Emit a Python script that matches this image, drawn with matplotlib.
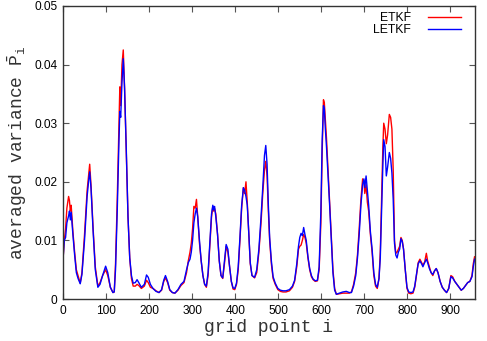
import matplotlib
matplotlib.use("Agg")
import matplotlib.pyplot as plt
from matplotlib.ticker import FuncFormatter

grid = [0, 3, 6, 9, 13, 15, 17, 19, 23, 27, 31, 35, 40, 44, 50, 56, 60, 62, 65, 70,
        75, 81, 86, 92, 99, 104, 110, 116, 119, 122, 126, 130, 132, 134, 137, 140, 143, 147, 151, 155,
        159, 163, 168, 172, 176, 182, 189, 194, 198, 203, 209, 216, 223, 229, 234, 238, 243, 248, 254, 260,
        267, 274, 281, 287, 291, 295, 298, 301, 304, 307, 310, 313, 317, 321, 325, 329, 333, 337, 341, 345,
        348, 350, 352, 355, 359, 363, 367, 371, 375, 379, 383, 387, 391, 395, 399, 403, 407, 411, 415, 419,
        422, 425, 428, 431, 435, 439, 445, 450, 455, 460, 464, 468, 471, 474, 477, 480, 484, 488, 493, 499,
        505, 511, 518, 526, 533, 538, 543, 547, 550, 553, 556, 559, 562, 565, 569, 573, 577, 581, 586, 591,
        595, 599, 602, 605, 607, 609, 612, 615, 619, 623, 627, 631, 635, 642, 650, 658, 665, 670, 675, 680,
        684, 688, 692, 696, 699, 701, 704, 707, 710, 714, 718, 722, 726, 730, 734, 737, 740, 743, 745, 748,
        751, 754, 758, 761, 764, 767, 770, 773, 776, 779, 782, 785, 788, 791, 795, 799, 803, 808, 813, 817,
        821, 825, 829, 833, 836, 840, 844, 847, 851, 855, 859, 863, 867, 871, 876, 881, 886, 891, 896, 901,
        905, 910, 915, 920, 925, 930, 935, 940, 945, 950, 953, 956]

etkf = [0.0067, 0.0100, 0.0120, 0.0155, 0.0175, 0.0168, 0.0150, 0.0160, 0.0115, 0.0080,
        0.0050, 0.0040, 0.0027, 0.0045, 0.0110, 0.0185, 0.0215, 0.0230, 0.0195, 0.0120,
        0.0055, 0.0022, 0.0028, 0.0040, 0.0050, 0.0040, 0.0020, 0.0011, 0.0012, 0.0060,
        0.0170, 0.0300, 0.0362, 0.0330, 0.0400, 0.0425, 0.0360, 0.0250, 0.0140, 0.0070,
        0.0035, 0.0022, 0.0022, 0.0025, 0.0023, 0.0018, 0.0022, 0.0032, 0.0028, 0.0020,
        0.0018, 0.0014, 0.0011, 0.0015, 0.0030, 0.0036, 0.0028, 0.0015, 0.0011, 0.0010,
        0.0015, 0.0023, 0.0028, 0.0045, 0.0065, 0.0080, 0.0095, 0.0120, 0.0158, 0.0155,
        0.0170, 0.0140, 0.0095, 0.0065, 0.0040, 0.0025, 0.0020, 0.0040, 0.0090, 0.0140,
        0.0158, 0.0150, 0.0155, 0.0145, 0.0110, 0.0065, 0.0040, 0.0035, 0.0060, 0.0090,
        0.0080, 0.0055, 0.0030, 0.0017, 0.0016, 0.0025, 0.0050, 0.0100, 0.0155, 0.0190,
        0.0180, 0.0200, 0.0165, 0.0120, 0.0060, 0.0040, 0.0036, 0.0045, 0.0080, 0.0130,
        0.0180, 0.0220, 0.0235, 0.0210, 0.0150, 0.0100, 0.0060, 0.0035, 0.0025, 0.0016,
        0.0013, 0.0012, 0.0012, 0.0014, 0.0020, 0.0030, 0.0055, 0.0085, 0.0090, 0.0092,
        0.0100, 0.0110, 0.0105, 0.0095, 0.0070, 0.0050, 0.0038, 0.0033, 0.0030, 0.0031,
        0.0050, 0.0130, 0.0250, 0.0340, 0.0335, 0.0310, 0.0275, 0.0230, 0.0170, 0.0110,
        0.0050, 0.0018, 0.0008, 0.0009, 0.0010, 0.0010, 0.0010, 0.0012, 0.0025, 0.0045,
        0.0075, 0.0120, 0.0170, 0.0205, 0.0200, 0.0180, 0.0195, 0.0165, 0.0150, 0.0110,
        0.0080, 0.0040, 0.0022, 0.0018, 0.0035, 0.0080, 0.0170, 0.0260, 0.0300, 0.0290,
        0.0265, 0.0280, 0.0315, 0.0310, 0.0290, 0.0220, 0.0100, 0.0078, 0.0080, 0.0085,
        0.0090, 0.0105, 0.0100, 0.0085, 0.0050, 0.0018, 0.0010, 0.0009, 0.0010, 0.0020,
        0.0040, 0.0062, 0.0068, 0.0062, 0.0058, 0.0063, 0.0078, 0.0065, 0.0055, 0.0045,
        0.0040, 0.0048, 0.0052, 0.0045, 0.0030, 0.0020, 0.0015, 0.0011, 0.0018, 0.0040,
        0.0038, 0.0030, 0.0025, 0.0020, 0.0015, 0.0018, 0.0023, 0.0028, 0.0030, 0.0040,
        0.0060, 0.0072]

letkf = [0.0067, 0.0100, 0.0105, 0.0130, 0.0142, 0.0150, 0.0135, 0.0148, 0.0110, 0.0075,
         0.0045, 0.0035, 0.0026, 0.0042, 0.0100, 0.0175, 0.0205, 0.0217, 0.0190, 0.0115,
         0.0050, 0.0020, 0.0025, 0.0040, 0.0056, 0.0045, 0.0020, 0.0011, 0.0012, 0.0050,
         0.0150, 0.0270, 0.0320, 0.0310, 0.0370, 0.0410, 0.0360, 0.0255, 0.0140, 0.0070,
         0.0040, 0.0027, 0.0028, 0.0033, 0.0028, 0.0020, 0.0025, 0.0041, 0.0037, 0.0025,
         0.0018, 0.0013, 0.0011, 0.0016, 0.0032, 0.0040, 0.0030, 0.0016, 0.0011, 0.0010,
         0.0016, 0.0025, 0.0030, 0.0050, 0.0062, 0.0068, 0.0080, 0.0100, 0.0130, 0.0145,
         0.0155, 0.0140, 0.0100, 0.0065, 0.0040, 0.0025, 0.0022, 0.0045, 0.0095, 0.0145,
         0.0160, 0.0152, 0.0158, 0.0140, 0.0110, 0.0065, 0.0040, 0.0036, 0.0065, 0.0093,
         0.0085, 0.0055, 0.0030, 0.0019, 0.0018, 0.0027, 0.0055, 0.0105, 0.0160, 0.0190,
         0.0185, 0.0175, 0.0160, 0.0120, 0.0062, 0.0040, 0.0037, 0.0050, 0.0085, 0.0140,
         0.0190, 0.0245, 0.0262, 0.0230, 0.0160, 0.0105, 0.0065, 0.0038, 0.0027, 0.0018,
         0.0015, 0.0014, 0.0014, 0.0016, 0.0022, 0.0032, 0.0060, 0.0090, 0.0105, 0.0112,
         0.0108, 0.0122, 0.0110, 0.0100, 0.0072, 0.0052, 0.0040, 0.0034, 0.0031, 0.0032,
         0.0055, 0.0150, 0.0270, 0.0330, 0.0325, 0.0295, 0.0260, 0.0220, 0.0165, 0.0105,
         0.0045, 0.0015, 0.0008, 0.0010, 0.0012, 0.0013, 0.0011, 0.0011, 0.0022, 0.0040,
         0.0070, 0.0110, 0.0160, 0.0195, 0.0205, 0.0190, 0.0210, 0.0185, 0.0160, 0.0115,
         0.0085, 0.0045, 0.0025, 0.0020, 0.0035, 0.0070, 0.0150, 0.0230, 0.0272, 0.0260,
         0.0210, 0.0225, 0.0250, 0.0240, 0.0215, 0.0170, 0.0095, 0.0075, 0.0070, 0.0080,
         0.0085, 0.0103, 0.0098, 0.0085, 0.0050, 0.0020, 0.0012, 0.0011, 0.0012, 0.0022,
         0.0042, 0.0060, 0.0065, 0.0060, 0.0055, 0.0062, 0.0068, 0.0062, 0.0052, 0.0045,
         0.0042, 0.0048, 0.0052, 0.0045, 0.0030, 0.0020, 0.0015, 0.0011, 0.0018, 0.0038,
         0.0036, 0.0030, 0.0025, 0.0020, 0.0015, 0.0018, 0.0023, 0.0028, 0.0030, 0.0038,
         0.0055, 0.0068]

xticks = [0, 100, 200, 300, 400, 500, 600, 700, 800, 900]
yticks = [0, 0.01, 0.02, 0.03, 0.04, 0.05]
series_names = ["ETKF", "LETKF"]

plt.rcParams['mathtext.fontset'] = 'custom'
plt.rcParams['mathtext.rm'] = 'Liberation Mono'
plt.rcParams['mathtext.it'] = 'Liberation Mono'
plt.rcParams['mathtext.tt'] = 'Liberation Mono'

fig = plt.figure(figsize=(4.87, 3.41), dpi=100)
ax = fig.add_axes([63/487, 42/341, (475-63)/487, (299-6)/341])

ax.plot(grid, etkf, color='#ff0000', lw=1.0, label=series_names[0])
ax.plot(grid, letkf, color='#0000ff', lw=1.0, label=series_names[1])

ax.set_xlim(0, 957)
ax.set_ylim(0, 0.05)
ax.set_xticks(xticks)
ax.set_yticks(yticks)
ax.yaxis.set_major_formatter(FuncFormatter(lambda v, p: '0' if v == 0 else f'{v:.2f}'))

ax.tick_params(direction='in', top=True, right=True, length=4, width=0.8,
               color='#555555', labelsize=8.6, pad=4)
for lab in ax.get_xticklabels() + ax.get_yticklabels():
    lab.set_family('Liberation Sans')
for s in ax.spines.values():
    s.set_color('#333333')
    s.set_linewidth(1.0)

ax.set_xlabel('grid point i', family='Liberation Mono', fontsize=13, labelpad=2, color='#333333')
ax.set_ylabel(r'averaged variance $\bar{\mathtt{P}}_{\mathtt{i}}$', family='Liberation Mono',
              fontsize=13, labelpad=4, color='#333333')

leg = ax.legend(loc='upper right', bbox_to_anchor=(0.966, 0.978), frameon=False,
                markerfirst=False, prop={'family': 'Liberation Sans', 'size': 8.8},
                handlelength=2.7, handletextpad=1.4, labelspacing=0.0,
                borderaxespad=0.0, borderpad=0.0)
for t in leg.get_texts():
    t.set_ha('right')

fig.savefig('out.png', dpi=100)
